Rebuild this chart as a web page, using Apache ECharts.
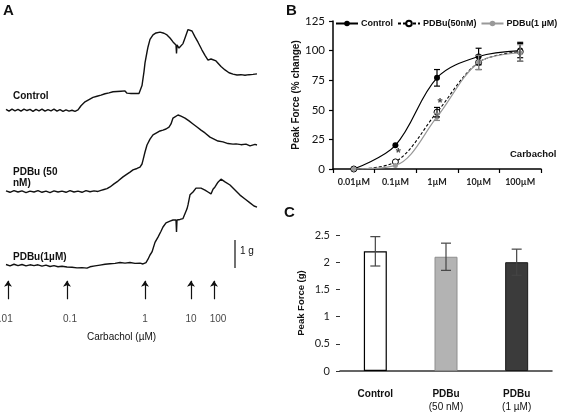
<!DOCTYPE html>
<html>
<head>
<meta charset="utf-8">
<script src="https://cdn.jsdelivr.net/npm/echarts@6/dist/echarts.min.js"></script>
<style>html,body{margin:0;padding:0;background:#fff}#c{width:567px;height:414px}</style>
</head>
<body>
<div id="c"></div>
<script>
// ---------- Panel A: force traces (x = time units, y = force in g) ----------
const controlTrace = [[6,6.45],[9,6.39],[12,6.46],[15,6.40],[18,6.45],[21,6.39],[24,6.46],[27,6.41],[30,6.45],[33,6.38],[36,6.45],[39,6.40],[42,6.46],[45,6.39],[48,6.44],[51,6.40],[54,6.46],[57,6.39],[60,6.44],[63,6.38],[66,6.43],[69,6.39],[72,6.42],[75,6.38],[78,6.43],
[81,6.58],[83,6.62],[85,6.72],[87,6.68],[89,6.80],[91,6.76],[93,6.88],[95,6.82],[97,6.92],[99,6.88],[101,6.96],[103,6.90],[105,7.01],[107,6.95],[109,7.04],[111,6.98],[113,7.08],[115,7.01],[117,7.09],[119,7.02],[121,7.10],[123,7.03],[125,7.11],[127,7.03],[129,7.10],[131,7.02],[133,7.09],[135,7.02],[137,7.08],[139,7.02],[140,7.06],
[142,7.3],[144,7.8],[145,8.11],[147,8.5],[148,8.68],[150,8.95],[153,9.11],[156,9.18],[158,9.24],[160,9.21],[162,9.22],[164,9.17],[167,9.11],[170,9.0],[173,8.86],[176,8.75],[176.5,8.45],[177,8.75],[179,8.64],[181,8.61],[183,8.8],[185,9.00],[188,9.3],[190,9.36],[192,9.25],[195,9.04],[198,8.85],[202,8.57],[205,8.38],[208,8.21],[211,8.25],[213,8.27],[216,8.18],[218,8.11],[221,7.98],[225,7.86],[229,7.76],[233,7.71],[237,7.68],[241,7.69],[245,7.67],[249,7.69],[253,7.70],[257,7.72]];

const pdbu50Trace = [[6,3.54],[10,3.49],[14,3.55],[18,3.50],[22,3.54],[26,3.48],[30,3.53],[34,3.50],[38,3.55],[42,3.49],[46,3.53],[50,3.48],[54,3.54],[58,3.50],[62,3.53],[66,3.49],[70,3.55],[74,3.50],[78,3.53],[82,3.49],[86,3.55],[90,3.51],[94,3.54],[98,3.52],[101,3.56],[104,3.59],[107,3.62],[110,3.68],[112,3.72],[114,3.79],[116,3.83],[118,3.89],[120,3.94],[123,4.04],[125,4.08],[127,4.14],[130,4.21],[133,4.29],[135,4.30],[137,4.34],[140,4.39],[142,4.5],[143,4.64],[145,4.93],[147,5.18],[150,5.39],[153,5.54],[155,5.58],[157,5.62],[160,5.68],[163,5.71],[166,5.75],[169,5.82],[171,5.93],[173,6.14],[175,6.21],[178,6.25],[181,6.21],[183,6.20],[185,6.14],[187,6.10],[189,6.04],[191,6.00],[193,5.93],[195,5.90],[197,5.82],[199,5.78],[201,5.71],[203,5.68],[205,5.61],[207,5.56],[210,5.46],[212,5.44],[214,5.39],[216,5.37],[218,5.32],[220,5.32],[223,5.29],[225,5.26],[228,5.23],[230,5.24],[233,5.21],[236,5.22],[238,5.20],[241,5.19],[243,5.18],[246,5.21],[248,5.20],[250,5.15],[252,5.16],[255,5.20],[257,5.18]];

const pdbu1Trace = [[6,0.91],[10,0.86],[14,0.92],[18,0.87],[22,0.91],[26,0.86],[30,0.90],[34,0.87],[38,0.90],[42,0.85],[46,0.89],[50,0.84],[54,0.87],[58,0.83],[62,0.85],[67,0.82],[72,0.81],[77,0.79],[82,0.80],[87,0.78],[90,0.83],[95,0.86],[100,0.89],[105,0.92],[110,0.94],[115,0.95],[120,0.98],[125,0.96],[130,0.98],[135,0.95],[140,0.96],[143,0.93],[146,0.98],
[148,1.1],[150,1.25],[152,1.36],[155,1.7],[158,1.89],[161,2.1],[163,2.25],[166,2.4],[170,2.46],[173,2.5],[176,2.5],[176.5,2.07],[177,2.5],[180,2.52],[183,2.55],[185,2.57],[187,2.9],[188,3.04],[190,3.4],[193,3.5],[196,3.64],[198,3.68],[201,3.64],[205,3.57],[208,3.5],[211,3.43],[213,3.6],[215,3.68],[218,3.85],[221,3.96],[225,3.86],[230,3.75],[235,3.57],[240,3.39],[245,3.25],[250,3.11],[254,3.0],[257,2.96]];

const doseArrowX = [8, 67, 145, 191, 214];
const doseLabels = ['0.01', '0.1', '1', '10', '100'];
const doseLabelX = [3, 70, 145, 191, 218];
const scaleBar = [[235, 0.79], [235, 1.79]];

// ---------- Panel B: concentration-response ----------
const doseCats = ['0.01µM', '0.1µM', '1µM', '10µM', '100µM'];
const controlB = [0, 20, 77, 95, 100];
const controlErr = [0, 0, 7, 7, 6];
const pdbu50B = [0, 6, 48, 90, 99];
const pdbu50Err = [0, 0, 4, 6, 8];
const pdbu1B = [0, 3, 44, 90, 98];
const pdbu1Err = [0, 0, 3, 6, 7];
const asteriskPts = [[1, 16], [2, 58]];

// ---------- Panel C: peak force ----------
const groupsC = ['Control', 'PDBu\n(50 nM)', 'PDBu\n(1 µM)'];
const peakForce = [2.2, 2.1, 2.0];
const peakErr = [0.27, 0.25, 0.24];

const chart = echarts.init(document.getElementById('c'), null, {renderer: 'canvas'});
const SANS = '"Liberation Sans", Arial, sans-serif';
const NUM = 'Lato, "Liberation Sans", sans-serif';

function errBar(color, half) {
  return function (params, api) {
    const x = api.value(0), y = api.value(1), e = api.value(2);
    if (!e) return null;
    const t = api.coord([x, y + e]), b = api.coord([x, y - e]);
    const st = {stroke: color, lineWidth: 1.2};
    return {type: 'group', children: [
      {type: 'line', shape: {x1: t[0], y1: t[1], x2: b[0], y2: b[1]}, style: st},
      {type: 'line', shape: {x1: t[0] - half, y1: t[1], x2: t[0] + half, y2: t[1]}, style: st},
      {type: 'line', shape: {x1: b[0] - half, y1: b[1], x2: b[0] + half, y2: b[1]}, style: st}
    ]};
  };
}
const withErr = (vals, errs) => vals.map((v, i) => [i, v, errs[i]]);

const traceStyle = {color: '#111', width: 1.4};
const option = {
  animation: false,
  backgroundColor: '#fff',
  grid: [
    {left: 0, top: 10, width: 270, height: 350},
    {left: 333, top: 21, width: 208, height: 148},
    {left: 340, top: 235, width: 212, height: 136}
  ],
  xAxis: [
    {gridIndex: 0, type: 'value', min: 0, max: 270, show: false},
    {gridIndex: 1, type: 'category', data: doseCats, boundaryGap: true,
      axisLine: {lineStyle: {color: '#000', width: 1.5}},
      axisTick: {show: true, length: 4, lineStyle: {color: '#000', width: 1.2}},
      axisLabel: {interval: 0, margin: 9, fontSize: 9, fontWeight: 'bold', color: '#222', fontFamily: NUM}},
    {gridIndex: 2, type: 'category', data: groupsC,
      axisLine: {lineStyle: {color: '#333', width: 1.5}},
      axisTick: {show: false},
      axisLabel: {interval: 0, margin: 17, color: '#111',
        formatter: function (v) {
          const p = v.split('\n');
          return p.length > 1 ? '{b|' + p[0] + '}\n{n|' + p[1] + '}' : '{b|' + v + '}';
        },
        rich: {
          b: {fontSize: 10, fontWeight: 'bold', fontFamily: SANS, lineHeight: 13, color: '#111'},
          n: {fontSize: 10, fontFamily: SANS, lineHeight: 13, color: '#111'}
        }}}
  ],
  yAxis: [
    {gridIndex: 0, type: 'value', min: -2.5, max: 10, show: false},
    {gridIndex: 1, type: 'value', min: 0, max: 125, interval: 25,
      name: 'Peak Force (% change)', nameLocation: 'middle', nameGap: 20,
      nameTextStyle: {fontSize: 10, fontWeight: 'bold', fontFamily: SANS, color: '#111'},
      axisLine: {show: true, lineStyle: {color: '#000', width: 1.5}},
      axisTick: {show: true, length: 4, lineStyle: {color: '#000', width: 1.2}},
      splitLine: {show: false},
      axisLabel: {margin: 8, fontSize: 11.5, color: '#111', fontFamily: NUM}},
    {gridIndex: 2, type: 'value', min: 0, max: 2.5, interval: 0.5,
      name: 'Peak Force (g)', nameLocation: 'middle', nameGap: 34,
      nameTextStyle: {fontSize: 9.5, fontWeight: 'bold', fontFamily: SANS, color: '#111'},
      axisLine: {show: false},
      axisTick: {show: true, length: 4, lineStyle: {color: '#333', width: 1}},
      splitLine: {show: false},
      axisLabel: {margin: 10, fontSize: 11, color: '#222', fontFamily: NUM}}
  ],
  legend: {
    left: 335, top: 19, padding: 0, itemGap: 4, itemWidth: 22, itemHeight: 7,
    data: ['Control', 'PDBu(50nM)', 'PDBu(1 µM)'],
    textStyle: {fontSize: 9, fontWeight: 'bold', fontFamily: SANS, color: '#111', padding: [0, 0, 0, -2]}
  },
  series: [
    // Panel A traces
    {type: 'line', xAxisIndex: 0, yAxisIndex: 0, data: controlTrace, showSymbol: false, lineStyle: traceStyle, silent: true},
    {type: 'line', xAxisIndex: 0, yAxisIndex: 0, data: pdbu50Trace, showSymbol: false, lineStyle: traceStyle, silent: true},
    {type: 'line', xAxisIndex: 0, yAxisIndex: 0, data: pdbu1Trace, showSymbol: false, lineStyle: traceStyle, silent: true},
    {type: 'line', xAxisIndex: 0, yAxisIndex: 0, data: scaleBar, showSymbol: false, lineStyle: {color: '#111', width: 1.2}, silent: true},
    {type: 'lines', coordinateSystem: 'cartesian2d', xAxisIndex: 0, yAxisIndex: 0,
      symbol: ['none', 'arrow'], symbolSize: 6,
      lineStyle: {color: '#111', width: 1.2, opacity: 1},
      data: doseArrowX.map(x => ({coords: [[x, -0.33], [x, 0.33]]})), silent: true},
    {type: 'scatter', xAxisIndex: 0, yAxisIndex: 0, symbolSize: 0,
      data: doseLabelX.map((x, i) => [x, -1.04, doseLabels[i]]),
      label: {show: true, position: 'inside', formatter: p => p.value[2], fontSize: 10, fontFamily: SANS, color: '#111'}, silent: true},
    // Panel B
    {name: 'Control', type: 'line', xAxisIndex: 1, yAxisIndex: 1, data: controlB, smooth: 0.35,
      symbol: 'circle', symbolSize: 6, itemStyle: {color: '#000'}, lineStyle: {color: '#000', width: 1.2}, z: 3},
    {name: 'PDBu(50nM)', type: 'line', xAxisIndex: 1, yAxisIndex: 1, data: pdbu50B, smooth: 0.35,
      symbol: 'circle', symbolSize: 6, itemStyle: {color: '#fff', borderColor: '#000', borderWidth: 1},
      lineStyle: {color: '#000', width: 1.1, type: [3, 2]}, z: 4},
    {name: 'PDBu(1 µM)', type: 'line', xAxisIndex: 1, yAxisIndex: 1, data: pdbu1B, smooth: 0.35,
      symbol: 'circle', symbolSize: 5, itemStyle: {color: '#999'}, lineStyle: {color: '#999', width: 1.2}, z: 5},
    {type: 'custom', xAxisIndex: 1, yAxisIndex: 1, renderItem: errBar('#000', 3), data: withErr(controlB, controlErr), z: 6, silent: true},
    {type: 'custom', xAxisIndex: 1, yAxisIndex: 1, renderItem: errBar('#000', 3), data: withErr(pdbu50B, pdbu50Err), z: 6, silent: true},
    {type: 'custom', xAxisIndex: 1, yAxisIndex: 1, renderItem: errBar('#888', 3), data: withErr(pdbu1B, pdbu1Err), z: 6, silent: true},
    {type: 'scatter', xAxisIndex: 1, yAxisIndex: 1, symbolSize: 0, data: asteriskPts, z: 7,
      label: {show: true, position: 'inside', formatter: '*', offset: [3, 3], fontSize: 13, fontWeight: 'bold', fontFamily: SANS, color: '#111'}, silent: true},
    // Panel C
    {type: 'bar', xAxisIndex: 2, yAxisIndex: 2, barWidth: 23, silent: true,
      data: peakForce.map((v, i) => ({value: v, itemStyle: [
        {color: '#fff', borderColor: '#000', borderWidth: 1.2},
        {color: '#b3b3b3', borderColor: '#8e8e8e', borderWidth: 1},
        {color: '#3b3b3b', borderColor: '#1a1a1a', borderWidth: 1}][i]}))},
    {type: 'custom', xAxisIndex: 2, yAxisIndex: 2, renderItem: errBar('#444', 5), data: withErr(peakForce, peakErr), z: 6, silent: true}
  ],
  graphic: [
    {type: 'text', x: 3, y: 3, style: {text: 'A', font: 'bold 15px ' + SANS, fill: '#111'}},
    {type: 'text', x: 286, y: 3, style: {text: 'B', font: 'bold 15px ' + SANS, fill: '#111'}},
    {type: 'text', x: 284, y: 205, style: {text: 'C', font: 'bold 15px ' + SANS, fill: '#111'}},
    {type: 'text', x: 13, y: 91, style: {text: 'Control', font: 'bold 10px ' + SANS, fill: '#111'}},
    {type: 'text', x: 13, y: 167, style: {text: 'PDBu (50\nnM)', font: 'bold 10px ' + SANS, lineHeight: 11, fill: '#111'}},
    {type: 'text', x: 13, y: 252, style: {text: 'PDBu(1µM)', font: 'bold 10px ' + SANS, fill: '#111'}},
    {type: 'text', x: 240, y: 246, style: {text: '1 g', font: '10px ' + SANS, fill: '#111'}},
    {type: 'text', x: 87, y: 332, style: {text: 'Carbachol (µM)', font: '10px ' + SANS, fill: '#111'}},
    {type: 'text', x: 510, y: 149, style: {text: 'Carbachol', font: 'bold 9.5px ' + SANS, fill: '#111'}}
  ]
};
chart.setOption(option);
</script>
</body>
</html>
